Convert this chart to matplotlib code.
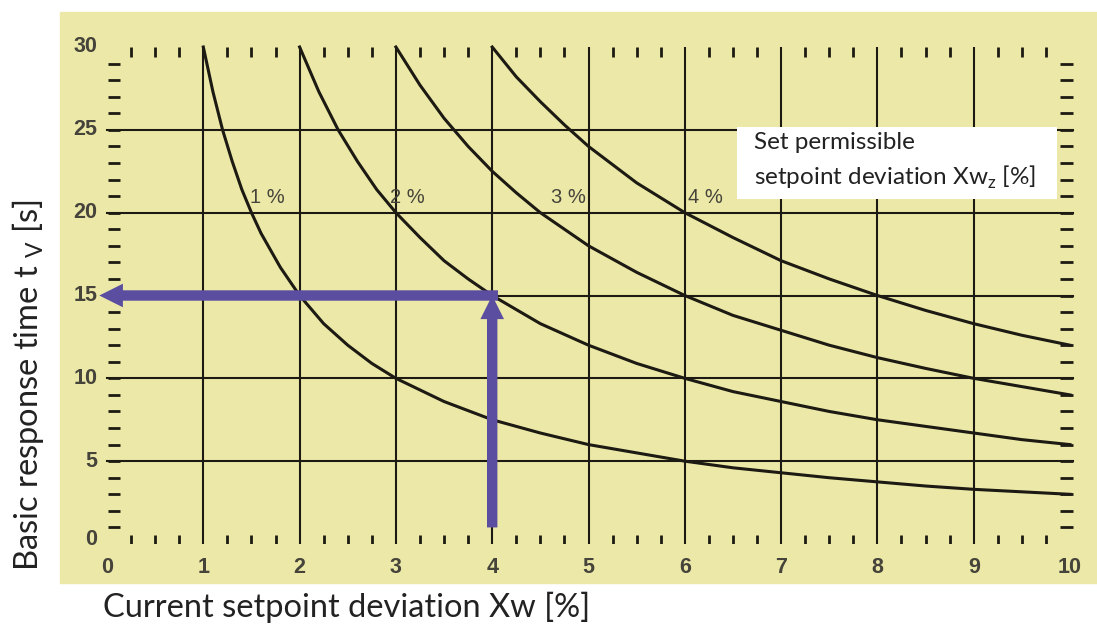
import numpy as np
import matplotlib.pyplot as plt
from matplotlib.patches import Rectangle

plt.rcParams['mathtext.fontset'] = 'custom'
plt.rcParams['mathtext.rm'] = 'Lato'

# Curves (x = current deviation Xw [%], y = response time [s])
x_1pct = [1, 1.1, 1.2, 1.3, 1.4, 1.5, 1.6, 1.8, 2, 2.25, 2.5, 2.75, 3, 3.5, 4, 4.5,
          5, 5.5, 6, 6.5, 7, 7.5, 8, 8.5, 9, 9.5, 10]
y_1pct = [30, 27.3, 25, 23.1, 21.4, 20, 18.75, 16.7, 15, 13.3, 12, 10.9, 10, 8.6, 7.5, 6.7,
          6, 5.5, 5, 4.6, 4.3, 4, 3.75, 3.5, 3.3, 3.15, 3]
x_2pct = [2, 2.2, 2.4, 2.6, 2.8, 3, 3.25, 3.5, 3.75, 4, 4.5, 5, 5.5, 6, 6.5, 7, 7.5, 8,
          8.5, 9, 9.5, 10]
y_2pct = [30, 27.3, 25, 23.1, 21.4, 20, 18.5, 17.1, 16, 15, 13.3, 12, 10.9, 10, 9.2, 8.6, 8, 7.5,
          7.1, 6.7, 6.3, 6]
x_3pct = [3, 3.25, 3.5, 3.75, 4, 4.25, 4.5, 5, 5.5, 6, 6.5, 7, 7.5, 8, 8.5, 9, 9.5, 10]
y_3pct = [30, 27.7, 25.7, 24, 22.5, 21.2, 20, 18, 16.4, 15, 13.8, 12.9, 12, 11.25, 10.6, 10, 9.5, 9]
x_4pct = [4, 4.25, 4.5, 4.75, 5, 5.5, 6, 6.5, 7, 7.5, 8, 8.5, 9, 9.5, 10]
y_4pct = [30, 28.2, 26.7, 25.3, 24, 21.8, 20, 18.5, 17.1, 16, 15, 14.1, 13.3, 12.6, 12]

curve_labels = ['1 %', '2 %', '3 %', '4 %']
label_x = [1.67, 3.12, 4.79, 6.21]
label_y = 20.9

x_ticks = list(range(0, 11))
y_ticks = [0, 5, 10, 15, 20, 25, 30]

# example reading shown by the arrows
read_x = 4
read_y = 15

bg = '#ECE9A8'
ink = '#1c1a12'
txt = '#45433a'
purple = '#5B4EA0'

fig = plt.figure(figsize=(10.97, 6.28), dpi=100)
fig.patches.append(Rectangle((60/1097, 1-583/628), 1-60/1097, (583-12)/628,
                             transform=fig.transFigure, color=bg, zorder=-5))

ax = fig.add_axes([107/1097, 1-544/628, (1070-107)/1097, (544-47)/628])
ax.set_zorder(2)
ax.set_xlim(0, 10)
ax.set_ylim(0, 30)
ax.axis('off')

# grid
for xv in range(1, 10):
    ax.plot([xv, xv], [0, 30], color=ink, lw=1.5, solid_capstyle='butt', zorder=2)
for yv in range(5, 30, 5):
    ax.plot([0, 10.03], [yv, yv], color=ink, lw=1.5, zorder=2, clip_on=False)

# small ticks
for xv in np.arange(0.25, 10, 0.25):
    if abs(xv - round(xv)) < 1e-6:
        continue
    ax.plot([xv, xv], [30, 29.4], color=ink, lw=2, solid_capstyle='butt', zorder=2)
    ax.plot([xv, xv], [0, 0.55], color=ink, lw=2, solid_capstyle='butt', zorder=2)
for yv in range(1, 30):
    ax.plot([0.01, 0.135], [yv, yv], color=ink, lw=2, solid_capstyle='butt', zorder=2, clip_on=False)
    ax.plot([9.9, 10.03], [yv, yv], color=ink, lw=2, solid_capstyle='butt', zorder=2, clip_on=False)

# curves
for xs, ys in [(x_1pct, y_1pct), (x_2pct, y_2pct), (x_3pct, y_3pct), (x_4pct, y_4pct)]:
    ax.plot(xs, ys, color=ink, lw=2.2, zorder=3, clip_on=False, solid_joinstyle='round')

for lab, lx in zip(curve_labels, label_x):
    ax.text(lx, label_y, lab, ha='center', va='center', fontsize=14.5,
            color=txt, family='Liberation Sans', zorder=4)

# tick labels
for xv in x_ticks:
    ax.text(xv, -0.8, str(xv), ha='center', va='top', fontsize=15.5, weight='bold',
            color=txt, family='Liberation Sans', clip_on=False)
for yv in y_ticks:
    ax.text(-0.1, yv + (0.3 if yv == 0 else 0), str(yv), ha='right', va='center',
            fontsize=15.5, weight='bold', color=txt, family='Liberation Sans', clip_on=False)

# arrows
ax.annotate('', xy=(-0.08, read_y), xytext=(read_x + 0.06, read_y),
            arrowprops=dict(arrowstyle='simple,head_length=17,head_width=17,tail_width=7.5',
                            mutation_scale=1, color=purple, shrinkA=0, shrinkB=0, lw=0),
            zorder=5, annotation_clip=False)
ax.annotate('', xy=(read_x, read_y), xytext=(read_x, 1.0),
            arrowprops=dict(arrowstyle='simple,head_length=17,head_width=17,tail_width=7.5',
                            mutation_scale=1, color=purple, shrinkA=0, shrinkB=0, lw=0),
            zorder=5, annotation_clip=False)

# legend box
ax.add_patch(Rectangle((6.54, 20.8), 9.87 - 6.54, 25.2 - 20.8, facecolor='white',
                       edgecolor='none', zorder=4))
ax.text(6.72, 24.25, 'Set permissible', ha='left', va='center', fontsize=17.5,
        family='Lato', color='#222222', zorder=5)
ax.text(6.72, 22.1, r'setpoint deviation Xw$_{\mathrm{z}}$ [%]', ha='left', va='center',
        fontsize=17.5, family='Lato', color='#222222', zorder=5)

# axis titles
fig.text(103/1097, 1-607/628, 'Current setpoint deviation Xw [%]', ha='left', va='center',
         fontsize=23.5, family='Lato', color='#222222')
fig.text(28/1097, 1-385/628, r'Basic response time t $_{\mathrm{V}}$ [s]', ha='center', va='center',
         rotation=90, fontsize=23.5, family='Lato', color='#222222')

fig.savefig('out.png', dpi=100)
